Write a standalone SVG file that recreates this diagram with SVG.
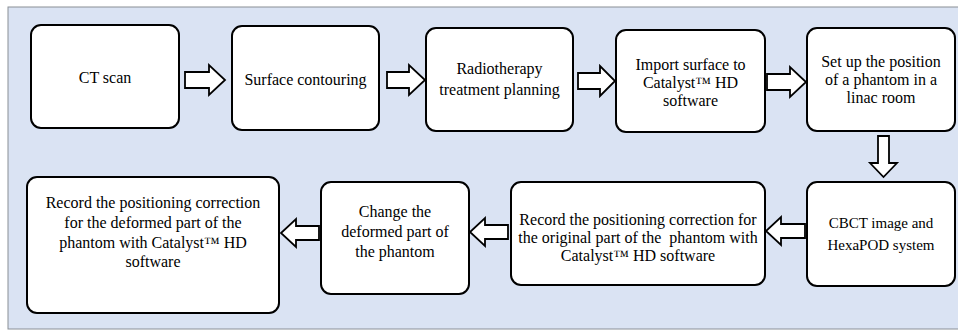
<svg xmlns="http://www.w3.org/2000/svg" width="958" height="331" viewBox="0 0 958 331">
<defs>
<style>
.box{fill:#ffffff;stroke:#000000;stroke-width:2}
.arr{fill:#ffffff;stroke:#000000;stroke-width:1.8;stroke-linejoin:miter}
</style>
</defs>
<rect x="0" y="0" width="958" height="331" fill="#ffffff"/>
<rect x="8" y="7" width="960" height="322" fill="#dae3f3" stroke="#8a8f96" stroke-width="1"/>
<g id="connectors">
<path class="arr" d="M185,72 H209 V65 L225,80 L209,95 V88 H185 Z"/>
<path class="arr" d="M387,72 H409 V65 L425,80 L409,95 V88 H387 Z"/>
<path class="arr" d="M578,73 H600 V66 L615,81 L600,96 V89 H578 Z"/>
<path class="arr" d="M767,74 H790 V67 L806,82 L790,97 V90 H767 Z"/>
<path class="arr" d="M878,136 H889 V163 H897 L883.5,177 L870,163 H878 Z"/>
<path class="arr" d="M805,224 H781 V217 L766,231 L781,245 V238 H805 Z"/>
<path class="arr" d="M508,225 H485 V218 L470,232 L485,246 V239 H508 Z"/>
<path class="arr" d="M319,226 H296 V219 L281,233 L296,247 V240 H319 Z"/>
</g>
<g font-family="'Liberation Serif', 'DejaVu Serif', serif" font-size="16" font-weight="normal" fill="#000000" text-anchor="middle">
<g id="n1"><rect class="box" x="31" y="25" width="148" height="103" rx="10"/><text x="105" y="83">CT scan</text></g>
<g id="n2"><rect class="box" x="232" y="26" width="147" height="104" rx="10"/><text x="305.5" y="85">Surface contouring</text></g>
<g id="n3"><rect class="box" x="426" y="28" width="147" height="103" rx="10"/><text x="499.5" y="74">Radiotherapy</text><text x="499.5" y="95">treatment planning</text></g>
<g id="n4"><rect class="box" x="616" y="30" width="149" height="102" rx="10"/><text x="690.5" y="70">Import surface to</text><text x="690.5" y="88">Catalyst™ HD</text><text x="690.5" y="106">software</text></g>
<g id="n5"><rect class="box" x="807" y="28" width="148" height="103" rx="10"/><text x="881" y="67">Set up the position</text><text x="881" y="85">of a phantom in a</text><text x="881" y="103">linac room</text></g>
<g id="n6"><rect class="box" x="807" y="182" width="148" height="104" rx="10"/><text x="881" y="228" font-size="15">CBCT image and</text><text x="881" y="250" font-size="15">HexaPOD system</text></g>
<g id="n7"><rect class="box" x="511" y="182" width="254" height="103" rx="10"/><text x="638" y="225">Record the positioning correction for</text><text x="638" y="243" xml:space="preserve">the original part of the  phantom with</text><text x="638" y="261">Catalyst™ HD software</text></g>
<g id="n8"><rect class="box" x="321" y="182" width="148" height="112" rx="10"/><text x="395" y="217">Change the</text><text x="395" y="237">deformed part of</text><text x="395" y="257">the phantom</text></g>
<g id="n9"><rect class="box" x="27" y="177" width="252" height="136" rx="10"/><text x="153" y="208">Record the positioning correction</text><text x="153" y="228">for the deformed part of the</text><text x="153" y="248">phantom with Catalyst™ HD</text><text x="153" y="267">software</text></g>
</g>
</svg>
